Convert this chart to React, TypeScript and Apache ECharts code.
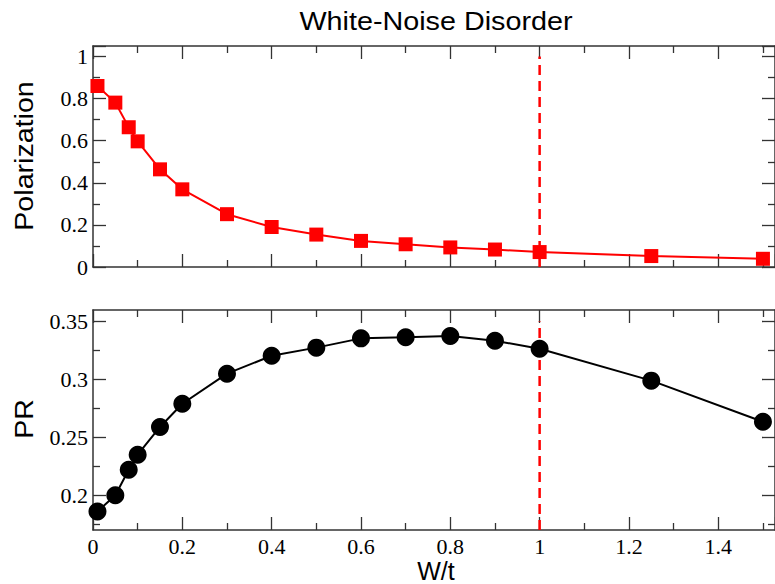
import React, { useEffect, useRef } from "react";
import * as echarts from "echarts";

const wt = [0.01, 0.05, 0.08, 0.1, 0.15, 0.2, 0.3, 0.4, 0.5, 0.6, 0.7, 0.8, 0.9, 1.0, 1.25, 1.5];
const polarization = [0.86, 0.781, 0.664, 0.597, 0.464, 0.369, 0.251, 0.19, 0.154, 0.124, 0.108, 0.093, 0.083, 0.071, 0.052, 0.039];
const pr = [0.186, 0.2, 0.222, 0.235, 0.259, 0.279, 0.305, 0.3205, 0.3275, 0.3355, 0.3365, 0.3375, 0.3335, 0.3265, 0.299, 0.2635];
const prMajorTicks = [0.2, 0.25, 0.3, 0.35];
const prMinorTicks = [0.175, 0.225, 0.275, 0.325];
const criticalW = 1.0;
const titleText = "White-Noise Disorder";
const xName = "W/t";
const yNameTop = "Polarization";
const yNameBottom = "PR";

const AXIS_COLOR = "#333";
const labelFont = { fontFamily: "Liberation Serif", fontSize: 22, color: "#000" };

function makeAxis(gridIndex: number, position: string, min: number, max: number, interval: number, showLabel: boolean, extra: any = {}) {
  return {
    type: "value",
    gridIndex,
    position,
    min,
    max,
    interval,
    axisLine: { show: true, onZero: false, lineStyle: { color: AXIS_COLOR, width: 1.5 } },
    axisTick: { show: true, inside: true, length: 13, lineStyle: { color: AXIS_COLOR, width: 1.3 }, ...(extra.axisTick || {}) },
    minorTick: { show: extra.noMinor ? false : true, splitNumber: 2, length: 7, lineStyle: { color: AXIS_COLOR, width: 1.3 } },
    splitLine: { show: false },
    minorSplitLine: { show: false },
    axisLabel: { show: showLabel, margin: 5, showMaxLabel: false, ...labelFont, ...(extra.axisLabel || {}) },
  };
}

function minorOverlay(gridIndex: number, position: string, min: number, max: number, values: number[]) {
  return {
    type: "value",
    gridIndex,
    position,
    min,
    max,
    axisLine: { show: false, onZero: false },
    axisTick: { show: true, inside: true, length: 7, customValues: values, lineStyle: { color: AXIS_COLOR, width: 1.3 } },
    minorTick: { show: false },
    splitLine: { show: false },
    axisLabel: { show: false },
  };
}

export default function App() {
  const ref = useRef<HTMLDivElement>(null);
  useEffect(() => {
    if (!ref.current) return;
    const chart = echarts.init(ref.current, null, { renderer: "svg" });
    const xMax = 1.527;
    const prMin = 0.17;
    const prMax = 0.36;
    const option: any = {
      animation: false,
      backgroundColor: "#fff",
      grid: [
        { left: 93, top: 46, width: 687, height: 221 },
        { left: 93, top: 310, width: 687, height: 220 },
      ],
      xAxis: [
        makeAxis(0, "bottom", 0, xMax, 0.2, false),
        makeAxis(0, "top", 0, xMax, 0.2, false),
        makeAxis(1, "bottom", 0, xMax, 0.2, true, { axisLabel: { margin: 5 } }),
        makeAxis(1, "top", 0, xMax, 0.2, false),
      ],
      yAxis: [
        makeAxis(0, "left", 0, 1.05, 0.2, true),
        makeAxis(0, "right", 0, 1.05, 0.2, false),
        makeAxis(1, "left", prMin, prMax, undefined as any, true, {
          noMinor: true,
          axisTick: { customValues: prMajorTicks },
          axisLabel: { customValues: prMajorTicks, showMinLabel: true, showMaxLabel: true },
        }),
        makeAxis(1, "right", prMin, prMax, undefined as any, false, {
          noMinor: true,
          axisTick: { customValues: prMajorTicks },
        }),
        minorOverlay(1, "left", prMin, prMax, prMinorTicks),
        minorOverlay(1, "right", prMin, prMax, prMinorTicks),
      ],
      series: [
        {
          type: "line",
          xAxisIndex: 0,
          yAxisIndex: 0,
          data: [[criticalW, 0], [criticalW, 1]],
          symbol: "none",
          lineStyle: { color: "#ff0000", width: 2.5, type: [10, 6] },
          z: 1,
        },
        {
          type: "line",
          xAxisIndex: 2,
          yAxisIndex: 2,
          data: [[criticalW, prMin], [criticalW, 0.35]],
          symbol: "none",
          lineStyle: { color: "#ff0000", width: 2.5, type: [10, 6] },
          z: 1,
        },
        {
          type: "line",
          xAxisIndex: 0,
          yAxisIndex: 0,
          data: wt.map((x, i) => [x, polarization[i]]),
          symbol: "rect",
          symbolSize: 14,
          itemStyle: { color: "#ff0000" },
          lineStyle: { color: "#ff0000", width: 2 },
          z: 3,
        },
        {
          type: "line",
          xAxisIndex: 2,
          yAxisIndex: 2,
          data: wt.map((x, i) => [x, pr[i]]),
          symbol: "circle",
          symbolSize: 18,
          itemStyle: { color: "#000" },
          lineStyle: { color: "#000", width: 2 },
          z: 3,
        },
      ],
      graphic: [
        {
          type: "text",
          x: 436,
          y: 22,
          scaleX: 1.15,
          style: { text: titleText, fontFamily: "Liberation Sans", fontSize: 25, fill: "#000", align: "center", verticalAlign: "middle" },
        },
        {
          type: "text",
          x: 24,
          y: 156,
          rotation: Math.PI / 2,
          scaleX: 1.1,
          style: { text: yNameTop, fontFamily: "Liberation Sans", fontSize: 26, fill: "#000", align: "center", verticalAlign: "middle" },
        },
        {
          type: "text",
          x: 24,
          y: 419,
          rotation: Math.PI / 2,
          scaleX: 1.1,
          style: { text: yNameBottom, fontFamily: "Liberation Sans", fontSize: 26, fill: "#000", align: "center", verticalAlign: "middle" },
        },
        {
          type: "text",
          x: 436,
          y: 571,
          style: { text: xName, fontFamily: "Liberation Sans", fontSize: 25, fill: "#000", align: "center", verticalAlign: "middle" },
        },
      ],
    };
    chart.setOption(option);
    return () => chart.dispose();
  }, []);
  return <div ref={ref} style={{ position: "fixed", left: 0, top: 0, width: 775, height: 584 }} />;
}
